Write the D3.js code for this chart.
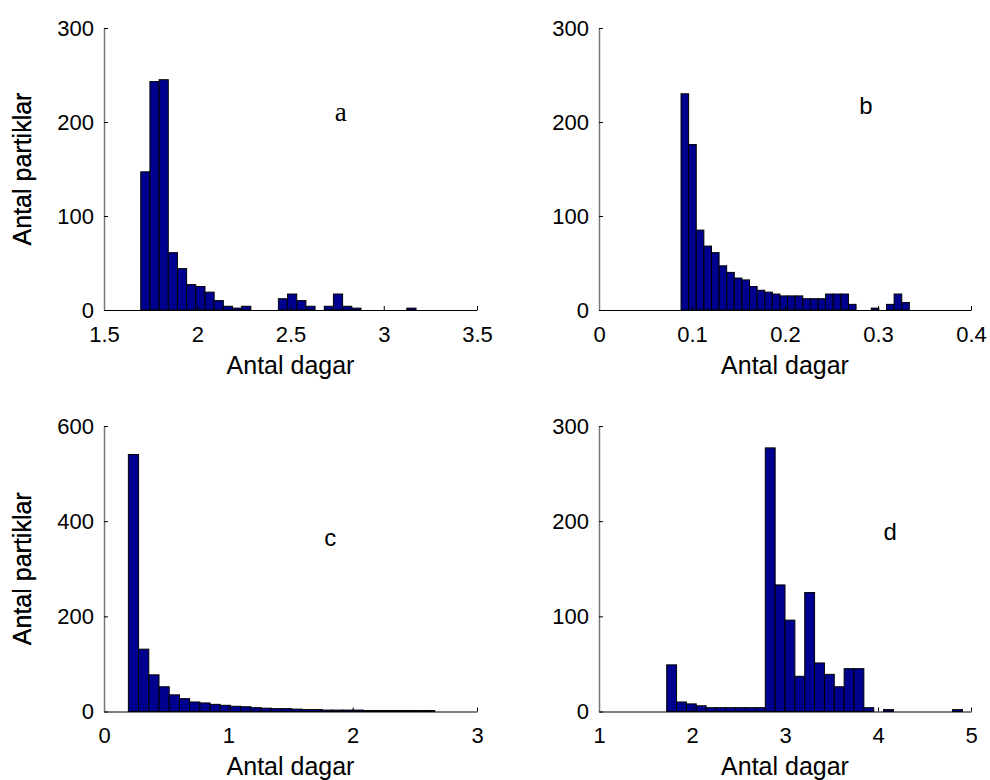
<!DOCTYPE html>
<html>
<head>
<meta charset="utf-8">
<script src="https://cdn.jsdelivr.net/npm/d3@7"></script>
<style>
body { margin: 0; background: #fff; }
text { font-family: "Liberation Sans", Arial, sans-serif; fill: #000; }
</style>
</head>
<body>
<div id="chart"></div>
<script>
// counts per histogram bin (30 bins each), and the data range the bins cover
var aCounts = [147, 243, 245, 61, 44, 27, 25, 19, 10, 4, 2, 4, 0, 0, 0,
               12, 17, 10, 4, 0, 4, 17, 4, 2, 0, 0, 0, 0, 0, 2];
var aRange = [1.697, 3.173];
var bCounts = [230, 176, 85, 68, 61, 47, 40, 34, 32, 25, 21, 19, 17, 15, 15,
               15, 12, 12, 12, 17, 17, 17, 6, 0, 0, 2, 0, 6, 17, 8];
var bRange = [0.0882, 0.3337];
var cCounts = [540, 131, 77, 52, 35, 27, 20, 18, 15, 13, 11, 10, 8, 7, 6,
               6, 5, 4, 4, 3, 3, 3, 3, 2, 2, 2, 2, 2, 2, 2];
var cRange = [0.196, 2.66];
var dCounts = [49, 10, 8, 6, 4, 4, 4, 4, 4, 4, 277, 133, 96, 37, 125,
               51, 39, 26, 45, 45, 4, 0, 2, 0, 0, 0, 0, 0, 0, 2];
var dRange = [1.728, 4.908];

// tick labels
var aTicksX = [1.5, 2, 2.5, 3, 3.5], bTicksX = [0, 0.1, 0.2, 0.3, 0.4];
var cTicksX = [0, 1, 2, 3], dTicksX = [1, 2, 3, 4, 5];
var ticksY300 = [0, 100, 200, 300], ticksY600 = [0, 200, 400, 600];

var xLabel = "Antal dagar", yLabel = "Antal partiklar";

var width = 990, height = 780;
var colX = [[104, 477], [599, 971]];
var rowY = [[28, 310], [426, 711.5]];

var panels = [
  {counts: aCounts, range: aRange, xTicks: aTicksX, yTicks: ticksY300, col: 0, row: 0,
   letter: "a", lx: 2.77, ly: 211, serif: true},
  {counts: bCounts, range: bRange, xTicks: bTicksX, yTicks: ticksY300, col: 1, row: 0,
   letter: "b", lx: 0.287, ly: 217},
  {counts: cCounts, range: cRange, xTicks: cTicksX, yTicks: ticksY600, col: 0, row: 1,
   letter: "c", lx: 1.82, ly: 365},
  {counts: dCounts, range: dRange, xTicks: dTicksX, yTicks: ticksY300, col: 1, row: 1,
   letter: "d", lx: 4.13, ly: 189}
];

var svg = d3.select("#chart").append("svg")
  .attr("width", width)
  .attr("height", height);

panels.forEach(function(p) {
  var x = d3.scaleLinear()
    .domain([p.xTicks[0], p.xTicks[p.xTicks.length - 1]])
    .range(colX[p.col]);
  var y = d3.scaleLinear()
    .domain([p.yTicks[0], p.yTicks[p.yTicks.length - 1]])
    .range([rowY[p.row][1], rowY[p.row][0]]);

  var n = p.counts.length;
  var step = (p.range[1] - p.range[0]) / n;
  var bins = p.counts.map(function(c, i) {
    return {x0: p.range[0] + i * step, x1: p.range[0] + (i + 1) * step, count: c};
  });

  var g = svg.append("g");

  g.selectAll("rect")
    .data(bins.filter(function(d) { return d.count > 0; }))
    .enter().append("rect")
    .attr("x", function(d) { return x(d.x0); })
    .attr("y", function(d) { return y(d.count); })
    .attr("width", function(d) { return x(d.x1) - x(d.x0); })
    .attr("height", function(d) { return y(0) - y(d.count); })
    .style("fill", "#00008f")
    .style("stroke", "#000")
    .style("stroke-width", 1);

  var xAxis = g.append("g")
    .attr("transform", "translate(0," + y(0) + ")")
    .call(d3.axisBottom(x).tickValues(p.xTicks).tickFormat(d3.format("~g"))
      .tickSizeInner(-4).tickSizeOuter(0).tickPadding(16));
  var yAxis = g.append("g")
    .attr("transform", "translate(" + x.range()[0] + ",0)")
    .call(d3.axisLeft(y).tickValues(p.yTicks).tickFormat(d3.format("d"))
      .tickSizeInner(-4).tickSizeOuter(0).tickPadding(10));

  [xAxis, yAxis].forEach(function(ax) {
    ax.selectAll("text")
      .style("font-family", "'Liberation Sans', Arial, sans-serif")
      .style("font-size", "22px")
      .style("fill", "#000");
    ax.selectAll("line").style("stroke", "#000");
  });
  xAxis.select(".domain").style("stroke", "#000");
  yAxis.select(".domain").style("stroke", "#777").style("stroke-width", 1.5);

  g.append("text")
    .attr("x", (x.range()[0] + x.range()[1]) / 2)
    .attr("y", y(0) + 55)
    .attr("dy", "0.35em")
    .style("text-anchor", "middle")
    .style("font-size", "25px")
    .text(xLabel);

  g.append("text")
    .attr("transform", "translate(22," + (y.range()[0] + y.range()[1]) / 2 + ") rotate(-90)")
    .attr("dy", "0.35em")
    .style("text-anchor", "middle")
    .style("font-size", "25px")
    .text(yLabel);

  g.append("text")
    .attr("x", x(p.lx))
    .attr("y", y(p.ly))
    .attr("dy", "0.35em")
    .style("text-anchor", "middle")
    .style("font-family", p.serif ? "'Liberation Serif', 'Times New Roman', serif" : null)
    .style("font-size", p.serif ? "27px" : "24px")
    .text(p.letter);
});
</script>
</body>
</html>
